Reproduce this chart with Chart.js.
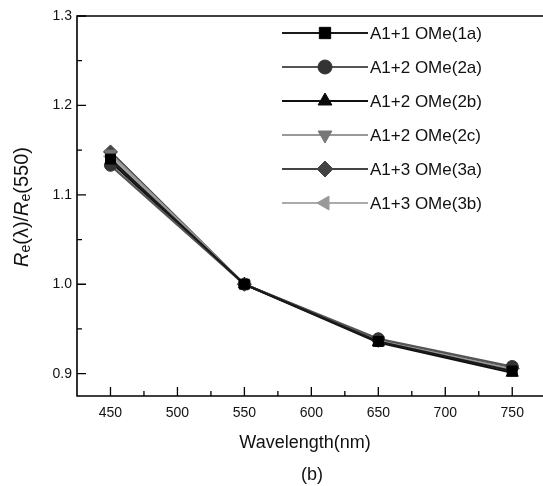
<!DOCTYPE html>
<html>
<head>
<meta charset="utf-8">
<script src="https://cdn.jsdelivr.net/npm/chart.js@4/dist/chart.umd.min.js"></script>
<style>
  html, body { margin: 0; padding: 0; background: #fff; }
  #wrap { width: 543px; height: 486px; }
</style>
</head>
<body>
<div id="wrap"><canvas id="chart_canvas" width="543" height="486"></canvas></div>
<script>
// wavelengths and the ratios
const wavelengths = [450, 550, 650, 750];
const labels = ["A1+1 OMe(1a)", "A1+2 OMe(2a)", "A1+2 OMe(2b)", "A1+2 OMe(2c)", "A1+3 OMe(3a)", "A1+3 OMe(3b)"];
const s1a = [1.140, 1.000, 0.936, 0.903];
const s2a = [1.133, 1.000, 0.939, 0.908];
const s2b = [1.137, 1.000, 0.935, 0.901];
const s2c = [1.146, 1.000, 0.937, 0.905];
const s3a = [1.148, 1.000, 0.938, 0.906];
const s3b = [1.143, 1.000, 0.937, 0.904];
const xTicks = [450, 500, 550, 600, 650, 700, 750];
const xMinor = [475, 525, 575, 625, 675, 725];
const yTicks = [0.9, 1.0, 1.1, 1.2, 1.3];
const yMinor = [0.95, 1.05, 1.15, 1.25];

const series = [s1a, s2a, s2b, s2c, s3a, s3b];
// marker look per series
const looks = [
  { line: "#1a1a1a", fill: "#000000", style: "rect", rot: 0, r: 8 },
  { line: "#555555", fill: "#333333", style: "circle", rot: 0, r: 7 },
  { line: "#111111", fill: "#0a0a0a", style: "triangle", rot: 0, r: 8 },
  { line: "#999999", fill: "#777777", style: "triangle", rot: 180, r: 8 },
  { line: "#444444", fill: "#444444", style: "rectRot", rot: 0, r: 8 },
  { line: "#aaaaaa", fill: "#999999", style: "triangle", rot: -90, r: 8 }
];

const font = "'Liberation Sans', Arial, sans-serif";

// draws frame, inward ticks, titles and the line+marker legend
const decor = {
  id: "decor",
  afterDraw(chart) {
    const ctx = chart.ctx;
    const a = chart.chartArea;
    const xs = chart.scales.x, ys = chart.scales.y;
    const W = chart.width;
    ctx.save();
    ctx.strokeStyle = "#000";
    ctx.lineWidth = 1.6;
    ctx.beginPath();
    ctx.moveTo(W, a.top); ctx.lineTo(a.left, a.top);
    ctx.lineTo(a.left, a.bottom); ctx.lineTo(W, a.bottom);
    ctx.stroke();
    ctx.lineWidth = 1.3;
    ctx.beginPath();
    for (const v of xTicks) { let p = xs.getPixelForValue(v); ctx.moveTo(p, a.bottom); ctx.lineTo(p, a.bottom - 9); }
    for (const v of xMinor) { let p = xs.getPixelForValue(v); ctx.moveTo(p, a.bottom); ctx.lineTo(p, a.bottom - 5); }
    for (const v of yTicks) { let p = ys.getPixelForValue(v); ctx.moveTo(a.left, p); ctx.lineTo(a.left + 9, p); }
    for (const v of yMinor) { let p = ys.getPixelForValue(v); ctx.moveTo(a.left, p); ctx.lineTo(a.left + 5, p); }
    ctx.stroke();

    // x title and panel letter
    ctx.fillStyle = "#111";
    ctx.textAlign = "center";
    ctx.textBaseline = "middle";
    ctx.font = "18px " + font;
    ctx.fillText("Wavelength(nm)", 305, 443);
    ctx.fillText("(b)", 312, 475);

    // y title with italic R and subscript e
    ctx.save();
    ctx.translate(22, 207);
    ctx.rotate(-Math.PI / 2);
    const parts = [
      ["italic 20px " + font, "R", 0], ["14px " + font, "e", 4], ["20px " + font, "(\u03bb)/", 0],
      ["italic 20px " + font, "R", 0], ["14px " + font, "e", 4], ["20px " + font, "(550)", 0]
    ];
    let total = 0;
    for (const p of parts) { ctx.font = p[0]; total += ctx.measureText(p[1]).width; }
    let x = -total / 2;
    ctx.textAlign = "left";
    for (const p of parts) {
      ctx.font = p[0];
      ctx.fillText(p[1], x, p[2]);
      x += ctx.measureText(p[1]).width;
    }
    ctx.restore();

    // legend
    ctx.font = "17px " + font;
    ctx.textAlign = "left";
    chart.data.datasets.forEach((ds, i) => {
      const y = 33 + i * 34;
      const lk = looks[i];
      ctx.strokeStyle = lk.line;
      ctx.lineWidth = 2;
      ctx.beginPath(); ctx.moveTo(282, y); ctx.lineTo(368, y); ctx.stroke();
      ctx.fillStyle = lk.fill;
      ctx.strokeStyle = lk.fill;
      ctx.lineWidth = 1;
      if (Chart.helpers && Chart.helpers.drawPoint) {
        Chart.helpers.drawPoint(ctx, { pointStyle: lk.style, radius: lk.r, rotation: lk.rot, borderWidth: 1 }, 325, y);
      } else {
        ctx.beginPath(); ctx.arc(325, y, lk.r, 0, Math.PI * 2); ctx.fill();
      }
      ctx.fillStyle = "#111";
      ctx.fillText(ds.label, 370, y + 1);
    });
    ctx.restore();
  }
};

const datasets = series.map((s, i) => ({
  label: labels[i],
  data: wavelengths.map((w, j) => ({ x: w, y: s[j] })),
  borderColor: looks[i].line,
  backgroundColor: looks[i].fill,
  pointBackgroundColor: looks[i].fill,
  pointBorderColor: looks[i].fill,
  pointStyle: looks[i].style,
  pointRotation: looks[i].rot,
  pointRadius: looks[i].r - 1,
  pointBorderWidth: 1,
  borderWidth: 2.2,
  fill: false,
  tension: 0,
  clip: false
}));

const chart = new Chart(document.getElementById("chart_canvas").getContext("2d"), {
  type: "line",
  data: { datasets: datasets },
  options: {
    responsive: false,
    animation: false,
    layout: { padding: { top: 16, left: 0, right: 0, bottom: 0 } },
    plugins: { legend: { display: false }, tooltip: { enabled: false } },
    scales: {
      x: {
        type: "linear",
        min: 425,
        max: 767,
        afterBuildTicks: s => { s.ticks = xTicks.map(v => ({ value: v })); },
        afterFit: s => { s.height = 90; },
        grid: { display: false, drawTicks: false },
        border: { display: false },
        ticks: { color: "#111", padding: 9, font: { family: font, size: 14 } }
      },
      y: {
        type: "linear",
        min: 0.875,
        max: 1.3,
        afterBuildTicks: s => { s.ticks = yTicks.map(v => ({ value: v })); },
        afterFit: s => { s.width = 77; },
        grid: { display: false, drawTicks: false },
        border: { display: false },
        ticks: { color: "#111", padding: 5, font: { family: font, size: 14 }, callback: v => v.toFixed(1) }
      }
    }
  },
  plugins: [decor]
});
</script>
</body>
</html>
